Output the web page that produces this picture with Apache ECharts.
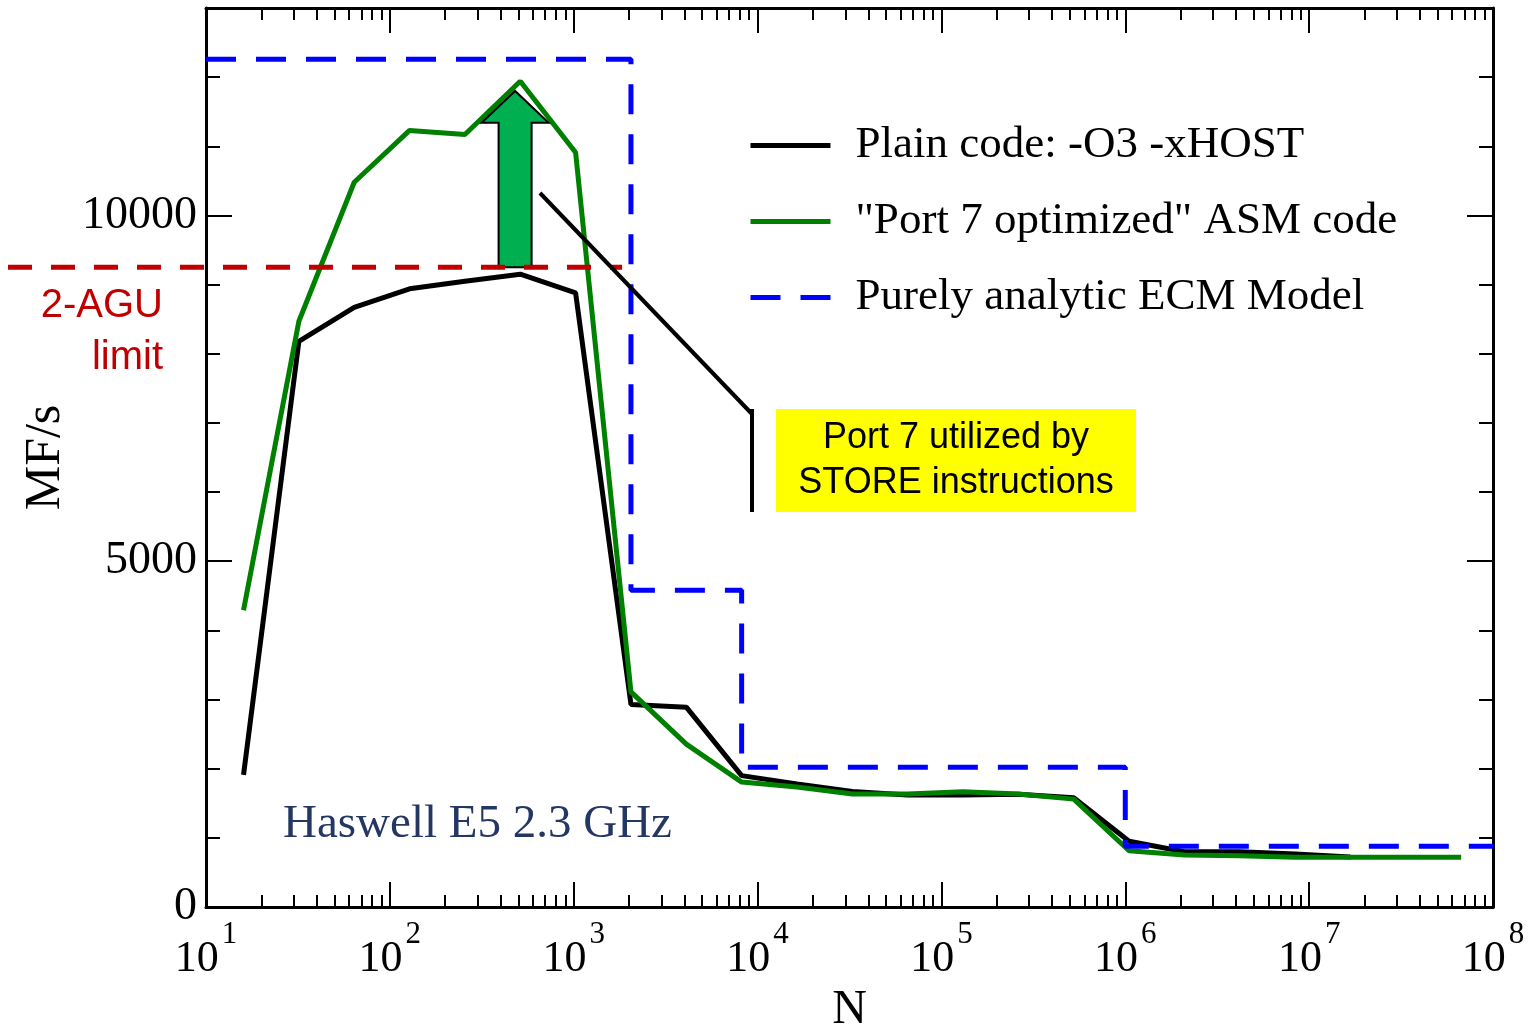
<!DOCTYPE html>
<html lang="en">
<head>
<meta charset="UTF-8" />
<title>ECM model vs measurement, Haswell</title>
<script src="https://cdn.jsdelivr.net/npm/echarts@6/dist/echarts.min.js"></script>
<style>
  html, body { margin: 0; padding: 0; background: #fff; }
  #chart { width: 1528px; height: 1027px; }
</style>
</head>
<body>
<div id="chart"></div>
<script>
// loop length N (powers of two)
const sizes = [16, 32, 64, 128, 256, 512, 1024, 2048, 4096, 8192, 16384, 32768, 65536,
  131072, 262144, 524288, 1048576, 2097152, 4194304, 8388608, 16777216, 33554432, 67108864];

// MF/s, plain compiler code (ends at 2^24)
const plainMF = [1910, 8180, 8670, 8940, 9050, 9150, 8880, 2930, 2890, 1900, 1780, 1670, 1620,
  1620, 1630, 1580, 950, 800, 800, 766, 722];

// MF/s, "Port 7 optimized" assembly
const port7MF = [4290, 8470, 10480, 11230, 11170, 11940, 10910, 3110, 2355, 1806, 1734, 1633, 1633,
  1666, 1633, 1560, 813, 751, 741, 718, 718, 718, 718];

// ECM model: step function
const ecmN  = [10, 2048, 2048, 8192, 8192, 1000000, 1000000, 100000000];
const ecmMF = [12260, 12260, 4580, 4580, 2020, 2020, 877, 877];

const aguLimit = 9250;
const decades = [10, 100, 1000, 10000, 100000, 1000000, 10000000, 100000000];
const yMajor = [0, 5000, 10000];

const names = ['Plain code: -O3 -xHOST', '"Port 7 optimized" ASM code', 'Purely analytic ECM Model'];

// minor ticks 2..9 in every decade
const minorX = [];
decades.slice(0, -1).forEach(d => { for (let m = 2; m <= 9; m++) minorX.push(m * d); });

const serif = 'Liberation Serif';

const chart = echarts.init(document.getElementById('chart'));

function xAxis(pos, major, labels) {
  return {
    type: 'log', logBase: 10, min: 10, max: 100000000, position: pos,
    axisLine: { show: major, onZero: false, lineStyle: { color: '#000', width: 3 } },
    axisTick: { show: true, inside: true, length: major ? 25 : 12, customValues: major ? decades : minorX,
      lineStyle: { color: '#000', width: 2 } },
    axisLabel: labels ? {
      show: true, customValues: decades, margin: 12,
      formatter: v => '{b|10}{s|' + Math.round(Math.log10(v)) + '}',
      rich: {
        b: { fontFamily: serif, fontSize: 44, color: '#000', verticalAlign: 'bottom', padding: [18, 0, 0, 0] },
        s: { fontFamily: serif, fontSize: 31, color: '#000', verticalAlign: 'top', padding: [0, 0, 0, 3] }
      }
    } : { show: false },
    splitLine: { show: false }
  };
}

function yAxis(pos, major, labels) {
  return {
    type: 'value', min: 0, max: 13000, interval: 1000, position: pos,
    axisLine: { show: major, onZero: false, lineStyle: { color: '#000', width: 3 } },
    axisTick: major
      ? { show: true, inside: true, length: 26, customValues: yMajor, lineStyle: { color: '#000', width: 2 } }
      : { show: true, inside: true, length: 14, lineStyle: { color: '#000', width: 2 } },
    axisLabel: labels
      ? { show: true, customValues: yMajor, margin: 9, fontFamily: serif, fontSize: 46, color: '#000',
          formatter: v => String(v) }
      : { show: false },
    splitLine: { show: false }
  };
}

const xs = [xAxis('bottom', true, true), xAxis('bottom', false, false), xAxis('top', true, false), xAxis('top', false, false)];
xs[0].name = 'N';
xs[0].nameLocation = 'middle';
xs[0].nameGap = 78;
xs[0].nameTextStyle = { fontFamily: serif, fontSize: 48, color: '#000' };

const ys = [yAxis('left', true, true), yAxis('left', false, false), yAxis('right', true, false), yAxis('right', false, false)];
ys[0].name = 'MF/s';
ys[0].nameLocation = 'middle';
ys[0].nameRotate = 90;
ys[0].nameGap = 126;
ys[0].nameTextStyle = { fontFamily: serif, fontSize: 50, color: '#000' };

const option = {
  animation: false,
  backgroundColor: '#fff',
  grid: { left: 206, right: 35, top: 8, bottom: 120, outerBoundsMode: 'none', containLabel: false },
  xAxis: xs,
  yAxis: ys,
  legend: {
    orient: 'vertical', left: 743, top: 118,
    itemWidth: 80, itemHeight: 20, itemGap: 31,
    itemStyle: { opacity: 0 },
    lineStyle: { width: 5 },
    textStyle: { fontFamily: serif, fontSize: 45, color: '#000', padding: [0, 0, 0, 20] },
    data: names
  },
  series: [
    {
      name: names[0], type: 'line', symbol: 'none',
      data: plainMF.map((v, i) => [sizes[i], v]),
      lineStyle: { color: '#000', width: 5 }, itemStyle: { color: '#000' }
    },
    {
      name: names[1], type: 'line', symbol: 'none',
      data: port7MF.map((v, i) => [sizes[i], v]),
      lineStyle: { color: '#008000', width: 5 }, itemStyle: { color: '#008000' }
    },
    {
      name: names[2], type: 'line', symbol: 'none',
      data: ecmMF.map((v, i) => [ecmN[i], v]),
      lineStyle: { color: '#0000ff', width: 5, type: [30, 20] }, itemStyle: { color: '#0000ff' }
    }
  ]
};
chart.setOption(option);

// annotations
const toPx = (n, v) => chart.convertToPixel({ xAxisIndex: 0, yAxisIndex: 0 }, [n, v]);
const aguY = toPx(10, aguLimit)[1];
const aguEnd = toPx(1833, aguLimit)[0];
const cx = toPx(480, 0)[0];
const yHead = toPx(480, 11340)[1];
const yTip = toPx(480, 11800)[1];

chart.setOption({
  graphic: [
    {
      type: 'polygon', z: 10,
      shape: { points: [
        [cx - 16.5, aguY], [cx - 16.5, yHead], [cx - 33.5, yHead], [cx, yTip],
        [cx + 33.5, yHead], [cx + 16.5, yHead], [cx + 16.5, aguY]
      ] },
      style: { fill: '#00b050', stroke: '#000', lineWidth: 2 }
    },
    {
      type: 'line', z: 11,
      shape: { x1: 8, y1: aguY, x2: aguEnd, y2: aguY },
      style: { stroke: '#c00000', lineWidth: 5, lineDash: [24, 19] }
    },
    {
      type: 'text', z: 11, x: 163, y: 280,
      style: { text: '2-AGU\nlimit', align: 'right', verticalAlign: 'top', font: '40px "Liberation Sans"',
        fill: '#c00000', lineHeight: 52 }
    },
    {
      type: 'line', z: 11,
      shape: { x1: 540, y1: 193, x2: 752, y2: 414 },
      style: { stroke: '#000', lineWidth: 4 }
    },
    {
      type: 'line', z: 11,
      shape: { x1: 752, y1: 409, x2: 752, y2: 512 },
      style: { stroke: '#000', lineWidth: 4 }
    },
    {
      type: 'rect', z: 11,
      shape: { x: 776, y: 409, width: 360, height: 103 },
      style: { fill: '#ffff00' }
    },
    {
      type: 'text', z: 12, x: 956, y: 461,
      style: { text: 'Port 7 utilized by\nSTORE instructions', align: 'center', verticalAlign: 'middle',
        font: '36px "Liberation Sans"', fill: '#000', lineHeight: 45 }
    },
    {
      type: 'text', z: 12, x: 283, y: 825,
      style: { text: 'Haswell E5 2.3 GHz', align: 'left', verticalAlign: 'middle',
        font: '47px "Liberation Serif"', fill: '#243763' }
    }
  ]
});
</script>
</body>
</html>
